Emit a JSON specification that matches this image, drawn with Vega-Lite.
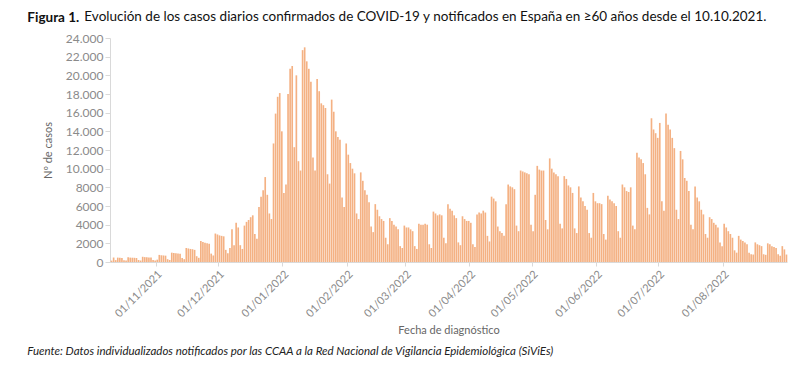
{
  "$schema": "https://vega.github.io/schema/vega-lite/v6.json",
  "background": "white",
  "padding": {"left": 27, "top": 9, "right": 10, "bottom": 4},
  "config": {"font": "Lato", "view": {"stroke": null}, "concat": {"spacing": 0}},
  "title": {"text": "Fuente: Datos individualizados  notificados  por las CCAA a la Red Nacional  de  Vigilancia  Epidemiológica  (SiViEs)", "orient": "bottom", "anchor": "start", "frame": "bounds", "fontSize": 11.5, "fontStyle": "italic", "fontWeight": "normal", "color": "#222222", "offset": 10},
  "vconcat": [{
    "title": {"text": "Figura 1.", "anchor": "start", "frame": "bounds", "fontSize": 13.5, "fontWeight": "bold", "color": "#111111", "offset": -15, "dx": -15},
    "vconcat": [{
      "title": {"text": "Evolución de los casos diarios confirmados de COVID-19 y notificados en España en ≥60 años desde el 10.10.2021.", "anchor": "start", "frame": "bounds", "fontSize": 13.5, "fontWeight": "normal", "color": "#111111", "dx": 42, "offset": 9},
      "width": 677,
      "height": 224,
      "data": {"values": [
        {"fecha":"2021-10-10","casos":150},
        {"fecha":"2021-10-11","casos":480},{"fecha":"2021-10-12","casos":200},{"fecha":"2021-10-13","casos":470},{"fecha":"2021-10-14","casos":450},{"fecha":"2021-10-15","casos":430},{"fecha":"2021-10-16","casos":200},{"fecha":"2021-10-17","casos":150},
        {"fecha":"2021-10-18","casos":500},{"fecha":"2021-10-19","casos":470},{"fecha":"2021-10-20","casos":460},{"fecha":"2021-10-21","casos":450},{"fecha":"2021-10-22","casos":430},{"fecha":"2021-10-23","casos":210},{"fecha":"2021-10-24","casos":160},
        {"fecha":"2021-10-25","casos":560},{"fecha":"2021-10-26","casos":520},{"fecha":"2021-10-27","casos":500},{"fecha":"2021-10-28","casos":490},{"fecha":"2021-10-29","casos":470},{"fecha":"2021-10-30","casos":220},{"fecha":"2021-10-31","casos":170},
        {"fecha":"2021-11-01","casos":250},{"fecha":"2021-11-02","casos":760},{"fecha":"2021-11-03","casos":720},{"fecha":"2021-11-04","casos":700},{"fecha":"2021-11-05","casos":680},{"fecha":"2021-11-06","casos":300},{"fecha":"2021-11-07","casos":220},
        {"fecha":"2021-11-08","casos":1000},{"fecha":"2021-11-09","casos":960},{"fecha":"2021-11-10","casos":930},{"fecha":"2021-11-11","casos":900},{"fecha":"2021-11-12","casos":880},{"fecha":"2021-11-13","casos":420},{"fecha":"2021-11-14","casos":300},
        {"fecha":"2021-11-15","casos":1500},{"fecha":"2021-11-16","casos":1450},{"fecha":"2021-11-17","casos":1400},{"fecha":"2021-11-18","casos":1370},{"fecha":"2021-11-19","casos":1300},{"fecha":"2021-11-20","casos":620},{"fecha":"2021-11-21","casos":450},
        {"fecha":"2021-11-22","casos":2250},{"fecha":"2021-11-23","casos":2150},{"fecha":"2021-11-24","casos":2050},{"fecha":"2021-11-25","casos":2000},{"fecha":"2021-11-26","casos":1950},{"fecha":"2021-11-27","casos":900},{"fecha":"2021-11-28","casos":700},
        {"fecha":"2021-11-29","casos":3050},{"fecha":"2021-11-30","casos":2950},{"fecha":"2021-12-01","casos":2850},{"fecha":"2021-12-02","casos":2800},{"fecha":"2021-12-03","casos":2750},{"fecha":"2021-12-04","casos":1300},{"fecha":"2021-12-05","casos":950},
        {"fecha":"2021-12-06","casos":1500},{"fecha":"2021-12-07","casos":3500},{"fecha":"2021-12-08","casos":1800},{"fecha":"2021-12-09","casos":4200},{"fecha":"2021-12-10","casos":3700},{"fecha":"2021-12-11","casos":1800},{"fecha":"2021-12-12","casos":1400},
        {"fecha":"2021-12-13","casos":3900},{"fecha":"2021-12-14","casos":4300},{"fecha":"2021-12-15","casos":4500},{"fecha":"2021-12-16","casos":4800},{"fecha":"2021-12-17","casos":5000},{"fecha":"2021-12-18","casos":3000},{"fecha":"2021-12-19","casos":2500},
        {"fecha":"2021-12-20","casos":5900},{"fecha":"2021-12-21","casos":7000},{"fecha":"2021-12-22","casos":7700},{"fecha":"2021-12-23","casos":9100},{"fecha":"2021-12-24","casos":7200},{"fecha":"2021-12-25","casos":5200},{"fecha":"2021-12-26","casos":4600},
        {"fecha":"2021-12-27","casos":12700},{"fecha":"2021-12-28","casos":15900},{"fecha":"2021-12-29","casos":17700},{"fecha":"2021-12-30","casos":18100},{"fecha":"2021-12-31","casos":14000},{"fecha":"2022-01-01","casos":7400},{"fecha":"2022-01-02","casos":8300},
        {"fecha":"2022-01-03","casos":18000},{"fecha":"2022-01-04","casos":20700},{"fecha":"2022-01-05","casos":21000},{"fecha":"2022-01-06","casos":12300},{"fecha":"2022-01-07","casos":20000},{"fecha":"2022-01-08","casos":10800},{"fecha":"2022-01-09","casos":9800},
        {"fecha":"2022-01-10","casos":22700},{"fecha":"2022-01-11","casos":23000},{"fecha":"2022-01-12","casos":21500},{"fecha":"2022-01-13","casos":20700},{"fecha":"2022-01-14","casos":19300},{"fecha":"2022-01-15","casos":11200},{"fecha":"2022-01-16","casos":9800},
        {"fecha":"2022-01-17","casos":19600},{"fecha":"2022-01-18","casos":18300},{"fecha":"2022-01-19","casos":17000},{"fecha":"2022-01-20","casos":16800},{"fecha":"2022-01-21","casos":16500},{"fecha":"2022-01-22","casos":9400},{"fecha":"2022-01-23","casos":8400},
        {"fecha":"2022-01-24","casos":17400},{"fecha":"2022-01-25","casos":16100},{"fecha":"2022-01-26","casos":14000},{"fecha":"2022-01-27","casos":13400},{"fecha":"2022-01-28","casos":13100},{"fecha":"2022-01-29","casos":6900},{"fecha":"2022-01-30","casos":5900},
        {"fecha":"2022-01-31","casos":12700},{"fecha":"2022-02-01","casos":11500},{"fecha":"2022-02-02","casos":10600},{"fecha":"2022-02-03","casos":10000},{"fecha":"2022-02-04","casos":9500},{"fecha":"2022-02-05","casos":5200},{"fecha":"2022-02-06","casos":4600},
        {"fecha":"2022-02-07","casos":9600},{"fecha":"2022-02-08","casos":8700},{"fecha":"2022-02-09","casos":7700},{"fecha":"2022-02-10","casos":7200},{"fecha":"2022-02-11","casos":6400},{"fecha":"2022-02-12","casos":3800},{"fecha":"2022-02-13","casos":3200},
        {"fecha":"2022-02-14","casos":6200},{"fecha":"2022-02-15","casos":5600},{"fecha":"2022-02-16","casos":4900},{"fecha":"2022-02-17","casos":4600},{"fecha":"2022-02-18","casos":4400},{"fecha":"2022-02-19","casos":2600},{"fecha":"2022-02-20","casos":1900},
        {"fecha":"2022-02-21","casos":4700},{"fecha":"2022-02-22","casos":4400},{"fecha":"2022-02-23","casos":4000},{"fecha":"2022-02-24","casos":3800},{"fecha":"2022-02-25","casos":3500},{"fecha":"2022-02-26","casos":1700},{"fecha":"2022-02-27","casos":1500},
        {"fecha":"2022-02-28","casos":3900},{"fecha":"2022-03-01","casos":3700},{"fecha":"2022-03-02","casos":3700},{"fecha":"2022-03-03","casos":3500},{"fecha":"2022-03-04","casos":3300},{"fecha":"2022-03-05","casos":1700},{"fecha":"2022-03-06","casos":1400},
        {"fecha":"2022-03-07","casos":4100},{"fecha":"2022-03-08","casos":4000},{"fecha":"2022-03-09","casos":4000},{"fecha":"2022-03-10","casos":4100},{"fecha":"2022-03-11","casos":4000},{"fecha":"2022-03-12","casos":1900},{"fecha":"2022-03-13","casos":1500},
        {"fecha":"2022-03-14","casos":5400},{"fecha":"2022-03-15","casos":5200},{"fecha":"2022-03-16","casos":5000},{"fecha":"2022-03-17","casos":5100},{"fecha":"2022-03-18","casos":5000},{"fecha":"2022-03-19","casos":2600},{"fecha":"2022-03-20","casos":2000},
        {"fecha":"2022-03-21","casos":6200},{"fecha":"2022-03-22","casos":5700},{"fecha":"2022-03-23","casos":5500},{"fecha":"2022-03-24","casos":5000},{"fecha":"2022-03-25","casos":4700},{"fecha":"2022-03-26","casos":2100},{"fecha":"2022-03-27","casos":1800},
        {"fecha":"2022-03-28","casos":4900},{"fecha":"2022-03-29","casos":4600},{"fecha":"2022-03-30","casos":4400},{"fecha":"2022-03-31","casos":4400},{"fecha":"2022-04-01","casos":4200},{"fecha":"2022-04-02","casos":1900},{"fecha":"2022-04-03","casos":1600},
        {"fecha":"2022-04-04","casos":5100},{"fecha":"2022-04-05","casos":5300},{"fecha":"2022-04-06","casos":5200},{"fecha":"2022-04-07","casos":5500},{"fecha":"2022-04-08","casos":5300},{"fecha":"2022-04-09","casos":2800},{"fecha":"2022-04-10","casos":2200},
        {"fecha":"2022-04-11","casos":7000},{"fecha":"2022-04-12","casos":6800},{"fecha":"2022-04-13","casos":6500},{"fecha":"2022-04-14","casos":3800},{"fecha":"2022-04-15","casos":3300},{"fecha":"2022-04-16","casos":3100},{"fecha":"2022-04-17","casos":2800},
        {"fecha":"2022-04-18","casos":6200},{"fecha":"2022-04-19","casos":8300},{"fecha":"2022-04-20","casos":8100},{"fecha":"2022-04-21","casos":8000},{"fecha":"2022-04-22","casos":7800},{"fecha":"2022-04-23","casos":3900},{"fecha":"2022-04-24","casos":3300},
        {"fecha":"2022-04-25","casos":9800},{"fecha":"2022-04-26","casos":9700},{"fecha":"2022-04-27","casos":9600},{"fecha":"2022-04-28","casos":9500},{"fecha":"2022-04-29","casos":9400},{"fecha":"2022-04-30","casos":4000},{"fecha":"2022-05-01","casos":3300},
        {"fecha":"2022-05-02","casos":7200},{"fecha":"2022-05-03","casos":10300},{"fecha":"2022-05-04","casos":9900},{"fecha":"2022-05-05","casos":9800},{"fecha":"2022-05-06","casos":9800},{"fecha":"2022-05-07","casos":4500},{"fecha":"2022-05-08","casos":3500},
        {"fecha":"2022-05-09","casos":11100},{"fecha":"2022-05-10","casos":10000},{"fecha":"2022-05-11","casos":9600},{"fecha":"2022-05-12","casos":9400},{"fecha":"2022-05-13","casos":9200},{"fecha":"2022-05-14","casos":4100},{"fecha":"2022-05-15","casos":3600},
        {"fecha":"2022-05-16","casos":9200},{"fecha":"2022-05-17","casos":8900},{"fecha":"2022-05-18","casos":8200},{"fecha":"2022-05-19","casos":8000},{"fecha":"2022-05-20","casos":7400},{"fecha":"2022-05-21","casos":3600},{"fecha":"2022-05-22","casos":3100},
        {"fecha":"2022-05-23","casos":8100},{"fecha":"2022-05-24","casos":6900},{"fecha":"2022-05-25","casos":6500},{"fecha":"2022-05-26","casos":6000},{"fecha":"2022-05-27","casos":5600},{"fecha":"2022-05-28","casos":3100},{"fecha":"2022-05-29","casos":2600},
        {"fecha":"2022-05-30","casos":7400},{"fecha":"2022-05-31","casos":6500},{"fecha":"2022-06-01","casos":6300},{"fecha":"2022-06-02","casos":6300},{"fecha":"2022-06-03","casos":6200},{"fecha":"2022-06-04","casos":3000},{"fecha":"2022-06-05","casos":2400},
        {"fecha":"2022-06-06","casos":7100},{"fecha":"2022-06-07","casos":6700},{"fecha":"2022-06-08","casos":6500},{"fecha":"2022-06-09","casos":6300},{"fecha":"2022-06-10","casos":6000},{"fecha":"2022-06-11","casos":3300},{"fecha":"2022-06-12","casos":2600},
        {"fecha":"2022-06-13","casos":8300},{"fecha":"2022-06-14","casos":8000},{"fecha":"2022-06-15","casos":7600},{"fecha":"2022-06-16","casos":7500},{"fecha":"2022-06-17","casos":8000},{"fecha":"2022-06-18","casos":3900},{"fecha":"2022-06-19","casos":3500},
        {"fecha":"2022-06-20","casos":11700},{"fecha":"2022-06-21","casos":11200},{"fecha":"2022-06-22","casos":11000},{"fecha":"2022-06-23","casos":10600},{"fecha":"2022-06-24","casos":9400},{"fecha":"2022-06-25","casos":5800},{"fecha":"2022-06-26","casos":5100},
        {"fecha":"2022-06-27","casos":15400},{"fecha":"2022-06-28","casos":14200},{"fecha":"2022-06-29","casos":13800},{"fecha":"2022-06-30","casos":13300},{"fecha":"2022-07-01","casos":14900},{"fecha":"2022-07-02","casos":6500},{"fecha":"2022-07-03","casos":5500},
        {"fecha":"2022-07-04","casos":15900},{"fecha":"2022-07-05","casos":14700},{"fecha":"2022-07-06","casos":14200},{"fecha":"2022-07-07","casos":13300},{"fecha":"2022-07-08","casos":12200},{"fecha":"2022-07-09","casos":5600},{"fecha":"2022-07-10","casos":4600},
        {"fecha":"2022-07-11","casos":11900},{"fecha":"2022-07-12","casos":11000},{"fecha":"2022-07-13","casos":9000},{"fecha":"2022-07-14","casos":8700},{"fecha":"2022-07-15","casos":7600},{"fecha":"2022-07-16","casos":4000},{"fecha":"2022-07-17","casos":3500},
        {"fecha":"2022-07-18","casos":8100},{"fecha":"2022-07-19","casos":6900},{"fecha":"2022-07-20","casos":6500},{"fecha":"2022-07-21","casos":5600},{"fecha":"2022-07-22","casos":5100},{"fecha":"2022-07-23","casos":3000},{"fecha":"2022-07-24","casos":2600},
        {"fecha":"2022-07-25","casos":4800},{"fecha":"2022-07-26","casos":4600},{"fecha":"2022-07-27","casos":4200},{"fecha":"2022-07-28","casos":4000},{"fecha":"2022-07-29","casos":3700},{"fecha":"2022-07-30","casos":2100},{"fecha":"2022-07-31","casos":1700},
        {"fecha":"2022-08-01","casos":4100},{"fecha":"2022-08-02","casos":3700},{"fecha":"2022-08-03","casos":3300},{"fecha":"2022-08-04","casos":3000},{"fecha":"2022-08-05","casos":2600},{"fecha":"2022-08-06","casos":1250},{"fecha":"2022-08-07","casos":1000},
        {"fecha":"2022-08-08","casos":2800},{"fecha":"2022-08-09","casos":2400},{"fecha":"2022-08-10","casos":2250},{"fecha":"2022-08-11","casos":2100},{"fecha":"2022-08-12","casos":1900},{"fecha":"2022-08-13","casos":1000},{"fecha":"2022-08-14","casos":830},
        {"fecha":"2022-08-15","casos":800},{"fecha":"2022-08-16","casos":2100},{"fecha":"2022-08-17","casos":1900},{"fecha":"2022-08-18","casos":1800},{"fecha":"2022-08-19","casos":1700},{"fecha":"2022-08-20","casos":830},{"fecha":"2022-08-21","casos":770},
        {"fecha":"2022-08-22","casos":2000},{"fecha":"2022-08-23","casos":1900},{"fecha":"2022-08-24","casos":1700},{"fecha":"2022-08-25","casos":1600},{"fecha":"2022-08-26","casos":1500},{"fecha":"2022-08-27","casos":830},{"fecha":"2022-08-28","casos":670},
        {"fecha":"2022-08-29","casos":1700},{"fecha":"2022-08-30","casos":1350},{"fecha":"2022-08-31","casos":800}
      ]},
      "mark": {"type": "bar", "color": "#F4B183", "binSpacing": 0, "width": {"band": 0.8}},
      "encoding": {
        "x": {
          "field": "fecha", "type": "temporal", "timeUnit": "utcyearmonthdate",
          "scale": {"type": "utc", "nice": false},
          "axis": {
            "title": "Fecha de diagnóstico",
            "format": "%d/%m/%Y",
            "values": [
              {"year": 2021, "month": 11, "date": 1, "utc": true},
              {"year": 2021, "month": 12, "date": 1, "utc": true},
              {"year": 2022, "month": 1, "date": 1, "utc": true},
              {"year": 2022, "month": 2, "date": 1, "utc": true},
              {"year": 2022, "month": 3, "date": 1, "utc": true},
              {"year": 2022, "month": 4, "date": 1, "utc": true},
              {"year": 2022, "month": 5, "date": 1, "utc": true},
              {"year": 2022, "month": 6, "date": 1, "utc": true},
              {"year": 2022, "month": 7, "date": 1, "utc": true},
              {"year": 2022, "month": 8, "date": 1, "utc": true}
            ],
            "labelAngle": -45,
            "labelFontSize": 11,
            "labelColor": "#8a8a8a",
            "labelPadding": 2,
            "tickColor": "#d9d9d9",
            "tickSize": 4,
            "domainColor": "#d9d9d9",
            "grid": false,
            "titleFontSize": 11,
            "titleFontWeight": "normal",
            "titleColor": "#666666",
            "titlePadding": 6
          }
        },
        "y": {
          "field": "casos", "type": "quantitative",
          "scale": {"domain": [0, 24000], "nice": false},
          "axis": {
            "title": "Nº de casos",
            "values": [0, 2000, 4000, 6000, 8000, 10000, 12000, 14000, 16000, 18000, 20000, 22000, 24000],
            "labelExpr": "datum.value >= 10000 ? replace(format(datum.value, ','), ',', '.') : format(datum.value, 'd')",
            "labelFontSize": 12,
            "labelColor": "#8a8a8a",
            "labelPadding": 2,
            "tickColor": "#d9d9d9",
            "tickSize": 5,
            "domainColor": "#d9d9d9",
            "grid": false,
            "titleFontSize": 11,
            "titleFontWeight": "normal",
            "titleColor": "#666666",
            "titlePadding": 12
          }
        }
      }
    }]
  }]
}
